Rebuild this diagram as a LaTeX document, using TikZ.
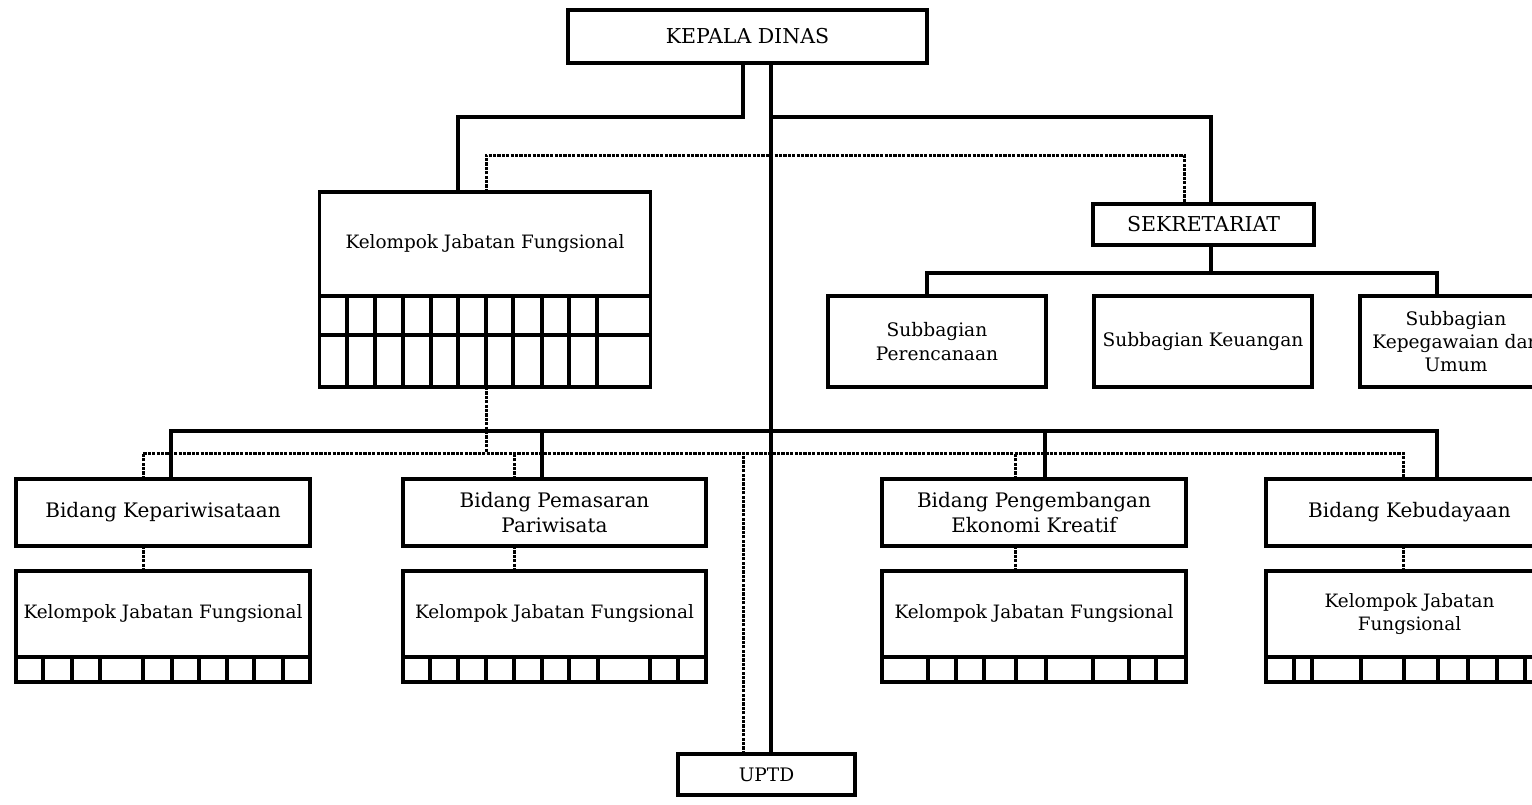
\documentclass[tikz,border=0pt]{standalone}
\usepackage{fontspec}
\setmainfont{DejaVu Serif}
\tikzset{
  box/.style={draw, line width=3.1pt, inner sep=0pt, outer sep=0pt, align=center, fill=white},
  conn/.style={line width=3.1pt},
  dot/.style={line width=3pt, dash pattern=on 3.2pt off 1.2pt},
  grid/.style={line width=3.1pt},
  fcap/.style={font=\fontsize{20.5}{24}\selectfont},
  fbid/.style={font=\fontsize{20}{25}\selectfont},
  fkjf/.style={align=center, font=\fontsize{18.4}{23.3}\selectfont},
  fsub/.style={font=\fontsize{18.6}{23.3}\selectfont},
}
\begin{document}
\begin{tikzpicture}[x=1pt,y=-1pt]
\useasboundingbox (0,0) rectangle (1532,804);
\clip (0,0) rectangle (1532,804);
% ---- boxes ----
\node[box, fcap, minimum width=359pt, minimum height=53pt] (kd) at (747.5,36.5) {KEPALA DINAS};
\node[box, fcap, minimum width=221pt, minimum height=41pt] (sek) at (1203.5,224.5) {SEKRETARIAT};
\node[box, fsub, minimum width=218pt, minimum height=91pt] (sp) at (937,341.5) {Subbagian\\Perencanaan};
\node[box, fsub, minimum width=218pt, minimum height=91pt] (sk) at (1203,341.5) {Subbagian Keuangan};
\node[box, fsub, minimum width=192pt, minimum height=91pt] (skp) at (1456,341.5) {Subbagian\\Kepegawaian dan\\Umum};
% big KJF
\node[box, minimum width=331pt, minimum height=195pt] (kjfA) at (485,289.5) {};
\node[fkjf] (kjfAt) at (485,244) {Kelompok Jabatan Fungsional};
\draw[grid] (319,296) -- (651,296);
\draw[grid] (319,335) -- (651,335);
\foreach \x in {347,375,403,431,458,486,513,542,569,597}
  \draw[grid] (\x,296) -- (\x,387);
% bidang
\node[box, fbid, minimum width=294pt, minimum height=67pt] (b1) at (163,512.5) {Bidang Kepariwisataan};
\node[box, fbid, minimum width=303pt, minimum height=67pt] (b2) at (554.5,512.5) {Bidang Pemasaran\\Pariwisata};
\node[box, fbid, minimum width=304pt, minimum height=67pt] (b3) at (1034,512.5) {Bidang Pengembangan\\Ekonomi Kreatif};
\node[box, fbid, minimum width=287pt, minimum height=67pt] (b4) at (1409.5,512.5) {Bidang Kebudayaan};
% small KJF boxes
\node[box, minimum width=294pt, minimum height=111pt] (k1) at (163,626.5) {};
\node[fkjf] (k1t) at (163,614) {Kelompok Jabatan Fungsional};
\node[box, minimum width=303pt, minimum height=111pt] (k2) at (554.5,626.5) {};
\node[fkjf] (k2t) at (554.5,614) {Kelompok Jabatan Fungsional};
\node[box, minimum width=304pt, minimum height=111pt] (k3) at (1034,626.5) {};
\node[fkjf] (k3t) at (1034,614) {Kelompok Jabatan Fungsional};
\node[box, minimum width=287pt, minimum height=111pt] (k4) at (1409.5,626.5) {};
\node[fkjf] (k4t) at (1409.5,614) {Kelompok Jabatan\\Fungsional};
\draw[grid] (16,657) -- (310,657);
\foreach \x in {43,72,100,143,172,199,227,254,283} \draw[grid] (\x,657) -- (\x,682);
\draw[grid] (403,657) -- (706,657);
\foreach \x in {430,458,486,514,542,569,598,650,678} \draw[grid] (\x,657) -- (\x,682);
\draw[grid] (882,657) -- (1186,657);
\foreach \x in {928,956,984,1016,1046,1093,1129,1156} \draw[grid] (\x,657) -- (\x,682);
\draw[grid] (1266,657) -- (1553,657);
\foreach \x in {1294,1312,1361,1404,1438,1468,1497,1525} \draw[grid] (\x,657) -- (\x,682);
% UPTD
\node[box, fsub, minimum width=177pt, minimum height=41pt] (uptd) at (766.5,774.5) {UPTD};
% ---- solid connectors ----
\draw[conn] ([xshift=-4.5pt]kd.south) -- ++(0,54) -| ([xshift=-27pt]kjfA.north);
\draw[conn] ([xshift=23.5pt]kd.south) -- ([xshift=4.5pt]uptd.north);
\draw[conn] ([xshift=23.5pt]kd.south) ++(0,54) -| ([xshift=7.5pt]sek.north);
\draw[conn] ([xshift=7.5pt]sek.south) -- ++(0,28);
\draw[conn] ([xshift=-10pt]sp.north) -- ++(0,-23) -| ([xshift=-19pt]skp.north);
\draw[conn] ([xshift=8pt]b1.north) -- ++(0,-48) -| ([xshift=27.5pt]b4.north);
\draw[conn] ([xshift=-12.5pt]b2.north) -- ++(0,-48);
\draw[conn] ([xshift=11pt]b3.north) -- ++(0,-48);
% ---- dotted connectors ----
\draw[dot] ([xshift=1pt]kjfA.north) -- ++(0,-37) -| ([xshift=-19.5pt]sek.north);
\draw[dot] ([xshift=1pt]kjfA.south) -- ++(0,66);
\draw[dot] ([xshift=-20pt]b1.north) -- ++(0,-26) -| ([xshift=-6.5pt]b4.north);
\draw[dot] ([xshift=-40.5pt]b2.north) -- ++(0,-26);
\draw[dot] ([xshift=-19pt]b3.north) -- ++(0,-26);
\draw[dot] ([xshift=-23.5pt]uptd.north) -- ++(0,-301);
\draw[dot] ([xshift=-20pt]b1.south) -- ([xshift=-20pt]k1.north);
\draw[dot] ([xshift=-40.5pt]b2.south) -- ([xshift=-40.5pt]k2.north);
\draw[dot] ([xshift=-19pt]b3.south) -- ([xshift=-19pt]k3.north);
\draw[dot] ([xshift=-6.5pt]b4.south) -- ([xshift=-6.5pt]k4.north);
\end{tikzpicture}
\end{document}
